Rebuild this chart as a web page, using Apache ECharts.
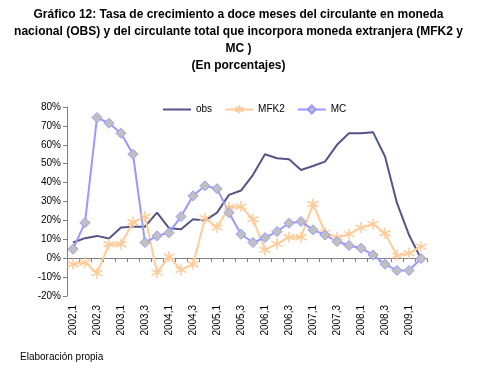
<!DOCTYPE html>
<html><head><meta charset="utf-8">
<script src="https://cdn.jsdelivr.net/npm/echarts@6/dist/echarts.min.js"></script>
<style>html,body{margin:0;padding:0;background:#fff}#c{width:477px;height:373px}</style>
</head><body><div id="c"></div>
<script>
var categories = ['2002,1','2002,2','2002,3','2002,4','2003,1','2003,2','2003,3','2003,4','2004,1','2004,2','2004,3','2004,4','2005,1','2005,2','2005,3','2005,4','2006,1','2006,2','2006,3','2006,4','2007,1','2007,2','2007,3','2007,4','2008,1','2008,2','2008,3','2008,4','2009,1','2009,2'];
var obs = [8.3,10.6,11.8,10.4,16.2,16.7,16.7,24.1,15.9,15.3,20.6,19.9,24.1,33.5,35.8,44.1,55.0,52.9,52.4,46.7,48.8,51.1,60.0,66.1,66.1,66.7,53.8,29.1,12.3,-0.2];
var mfk2 = [-3.2,-2.3,-7.9,7.4,7.4,19.0,22.0,-7.6,0.8,-6.2,-3.2,21.2,16.2,27.0,27.3,20.6,4.4,7.6,11.1,11.1,28.7,13.5,11.0,12.7,16.2,18.0,13.2,1.4,2.6,6.1];
var mc = [4.8,18.8,74.4,71.4,66.1,55.0,8.3,11.8,13.5,22.0,33.0,38.3,36.8,24.1,12.7,8.3,10.9,14.1,18.5,19.4,15.0,12.3,8.8,6.7,5.3,1.7,-3.2,-6.5,-6.5,-0.2];
var yTicks = {min:-20, max:80, interval:10};

var star = 'path://M5,0L5,10M0.7,2.5L9.3,7.5M0.7,7.5L9.3,2.5';
var chart = echarts.init(document.getElementById('c'));
var F = 'Liberation Sans, Arial, sans-serif';
chart.setOption({
  animation:false,
  backgroundColor:'#fff',
  title:[{
    text:'Gráfico 12: Tasa de crecimiento a doce meses del circulante en moneda\nnacional (OBS) y del circulante total que incorpora moneda extranjera (MFK2 y\nMC )\n(En porcentajes)',
    left:'center', top:6, padding:0,
    textStyle:{fontFamily:F, fontSize:12, fontWeight:'bold', color:'#000', lineHeight:17, align:'center'}
  },{
    text:'Elaboración propia', left:20, top:352, padding:0,
    textStyle:{fontFamily:F, fontSize:10, fontWeight:'normal', color:'#000'}
  }],
  legend:{
    top:98, left:157, itemWidth:28, itemHeight:10, itemGap:12,
    textStyle:{fontFamily:F, fontSize:10, color:'#000'},
    data:[{name:'obs', itemStyle:{opacity:0}},'MFK2','MC']
  },
  grid:{left:67, right:50, top:107, bottom:77},
  xAxis:[{
    type:'category', data:categories, boundaryGap:true,
    axisLine:{onZero:true, lineStyle:{color:'#808080'}},
    axisTick:{show:true, interval:0, length:4, lineStyle:{color:'#808080'}},
    axisLabel:{show:false}, splitLine:{show:false}
  },{
    type:'category', data:categories, boundaryGap:true, position:'bottom',
    axisLine:{show:false, onZero:false}, axisTick:{show:false},
    axisLabel:{interval:1, rotate:90, fontFamily:F, fontSize:10, color:'#000', margin:9},
    splitLine:{show:false}
  }],
  yAxis:{
    type:'value', min:yTicks.min, max:yTicks.max, interval:yTicks.interval,
    axisLine:{show:true, lineStyle:{color:'#808080'}},
    axisTick:{show:true, length:4, lineStyle:{color:'#808080'}},
    axisLabel:{formatter:'{value}%', fontFamily:F, fontSize:10, color:'#000', margin:6},
    splitLine:{show:false}
  },
  series:[{
    name:'obs', type:'line', data:obs, xAxisIndex:0, symbol:'none',
    lineStyle:{color:'#555588', width:2}, itemStyle:{color:'#555588'}
  },{
    name:'MFK2', type:'line', data:mfk2, xAxisIndex:0, symbol:star, symbolSize:11,
    showSymbol:true, showAllSymbol:true,
    lineStyle:{color:'#ffcc99', width:2},
    itemStyle:{color:'none', borderColor:'#ffcc99', borderWidth:1.5}
  },{
    name:'MC', type:'line', data:mc, xAxisIndex:0, symbol:'diamond', symbolSize:10,
    showSymbol:true, showAllSymbol:true,
    lineStyle:{color:'#9999ff', width:2},
    itemStyle:{color:'#c0c0c0', borderColor:'#9999ff', borderWidth:1}
  }]
});
</script></body></html>
